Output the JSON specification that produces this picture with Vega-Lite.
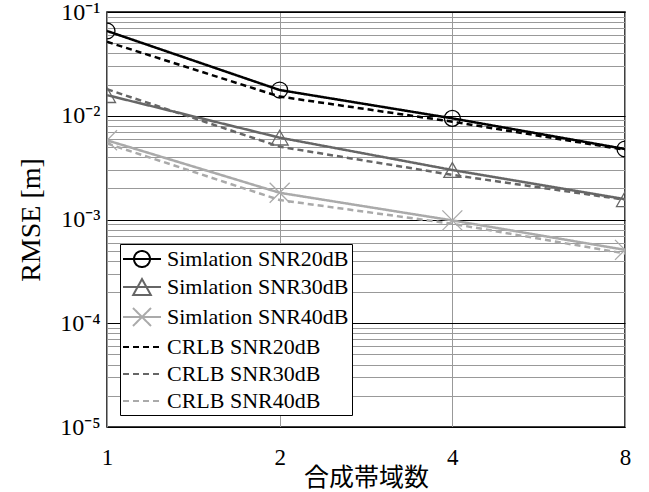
{
  "$schema": "https://vega.github.io/schema/vega-lite/v6.json",
  "width": 518,
  "height": 415,
  "autosize": {"type": "none"},
  "padding": {"left": 107, "top": 12, "right": 24, "bottom": 65},
  "background": "#ffffff",
  "data": {
    "values": [
      {"bands": 1, "rmse": 0.0656, "series": "Simlation SNR20dB"},
      {"bands": 2, "rmse": 0.0177, "series": "Simlation SNR20dB"},
      {"bands": 4, "rmse": 0.00944, "series": "Simlation SNR20dB"},
      {"bands": 8, "rmse": 0.00478, "series": "Simlation SNR20dB"},
      {"bands": 1, "rmse": 0.0158, "series": "Simlation SNR30dB"},
      {"bands": 2, "rmse": 0.00615, "series": "Simlation SNR30dB"},
      {"bands": 4, "rmse": 0.0030, "series": "Simlation SNR30dB"},
      {"bands": 8, "rmse": 0.00157, "series": "Simlation SNR30dB"},
      {"bands": 1, "rmse": 0.0058, "series": "Simlation SNR40dB"},
      {"bands": 2, "rmse": 0.00181, "series": "Simlation SNR40dB"},
      {"bands": 4, "rmse": 0.00098, "series": "Simlation SNR40dB"},
      {"bands": 8, "rmse": 0.00051, "series": "Simlation SNR40dB"},
      {"bands": 1, "rmse": 0.0516, "series": "CRLB SNR20dB"},
      {"bands": 2, "rmse": 0.0153, "series": "CRLB SNR20dB"},
      {"bands": 4, "rmse": 0.00877, "series": "CRLB SNR20dB"},
      {"bands": 8, "rmse": 0.0047, "series": "CRLB SNR20dB"},
      {"bands": 1, "rmse": 0.018, "series": "CRLB SNR30dB"},
      {"bands": 2, "rmse": 0.00503, "series": "CRLB SNR30dB"},
      {"bands": 4, "rmse": 0.00269, "series": "CRLB SNR30dB"},
      {"bands": 8, "rmse": 0.00155, "series": "CRLB SNR30dB"},
      {"bands": 1, "rmse": 0.0054, "series": "CRLB SNR40dB"},
      {"bands": 2, "rmse": 0.00154, "series": "CRLB SNR40dB"},
      {"bands": 4, "rmse": 0.00091, "series": "CRLB SNR40dB"},
      {"bands": 8, "rmse": 0.00047, "series": "CRLB SNR40dB"}
    ]
  },
  "encoding": {
    "x": {
      "field": "bands",
      "type": "quantitative",
      "scale": {"type": "log", "base": 2, "domain": [1, 8], "nice": false},
      "axis": {
        "title": "合成帯域数",
        "values": [1, 2, 4, 8],
        "labelExpr": "datum.value",
        "grid": true,
        "gridColor": "#999999",
        "gridWidth": 1,
        "ticks": false,
        "domain": false,
        "labelFont": "Liberation Serif",
        "labelFontSize": 23,
        "labelColor": "#000000",
        "labelPadding": 19,
        "labelFlush": false,
        "titleFont": "Noto Sans CJK JP",
        "titleFontSize": 25,
        "titleFontWeight": "normal",
        "titleColor": "#000000",
        "titlePadding": -4
      }
    },
    "y": {
      "field": "rmse",
      "type": "quantitative",
      "scale": {"type": "log", "domain": [0.00001, 0.1], "nice": false},
      "axis": {
        "title": "RMSE [m]",
        "values": [0.00001, 0.00002, 0.00003, 0.00004, 0.00005, 0.00006, 0.00007, 0.00008, 0.00009,
                   0.0001, 0.0002, 0.0003, 0.0004, 0.0005, 0.0006, 0.0007, 0.0008, 0.0009,
                   0.001, 0.002, 0.003, 0.004, 0.005, 0.006, 0.007, 0.008, 0.009,
                   0.01, 0.02, 0.03, 0.04, 0.05, 0.06, 0.07, 0.08, 0.09, 0.1],
        "labelExpr": "abs(datum.value/pow(10,round(log(datum.value)/LN10))-1)<1e-6 ? '10' + ['⁻¹','⁻²','⁻³','⁻⁴','⁻⁵'][-round(log(datum.value)/LN10)-1] : ''",
        "grid": true,
        "gridColor": {"condition": {"test": "abs(datum.value/pow(10,round(log(datum.value)/LN10))-1)<1e-6", "value": "#000000"}, "value": "#999999"},
        "gridWidth": 1,
        "ticks": false,
        "domain": false,
        "labelFont": "Liberation Serif",
        "labelFontSize": 24,
        "labelColor": "#000000",
        "labelPadding": 7,
        "labelFlush": false,
        "labelOverlap": false,
        "titleFont": "Liberation Serif",
        "titleFontSize": 28,
        "titleFontWeight": "normal",
        "titleColor": "#000000",
        "titlePadding": 14
      }
    }
  },
  "layer": [
    {
      "mark": {"type": "line", "strokeWidth": 2.5, "clip": true},
      "encoding": {
        "color": {"field": "series", "type": "nominal", "legend": null},
        "strokeDash": {"field": "series", "type": "nominal", "legend": null}
      }
    },
    {
      "transform": [{"filter": "datum.series == 'Simlation SNR20dB'"}],
      "mark": {"type": "point", "shape": "circle", "size": 254, "filled": false, "stroke": "#000000", "strokeWidth": 1.3, "opacity": 1, "clip": true}
    },
    {
      "transform": [{"filter": "datum.series == 'Simlation SNR30dB'"}],
      "mark": {"type": "point", "shape": "triangle-up", "size": 289, "filled": false, "stroke": "#666666", "strokeWidth": 1.3, "opacity": 1, "clip": true}
    },
    {
      "transform": [{"filter": "datum.series == 'Simlation SNR40dB'"}],
      "mark": {"type": "point", "shape": "M-1,-1L1,1M-1,1L1,-1", "size": 400, "filled": false, "stroke": "#aaaaaa", "strokeWidth": 1.3, "opacity": 1, "clip": true}
    },
    {
      "mark": {"type": "point", "filled": false, "opacity": 0, "strokeWidth": 2},
      "encoding": {
        "color": {
          "field": "series",
          "type": "nominal",
          "scale": {
            "domain": ["Simlation SNR20dB", "Simlation SNR30dB", "Simlation SNR40dB", "CRLB SNR20dB", "CRLB SNR30dB", "CRLB SNR40dB"],
            "range": ["#000000", "#666666", "#aaaaaa", "#000000", "#666666", "#aaaaaa"]
          },
          "legend": {"orient": "none", "legendX": 13, "legendY": 232, "title": null, "labelFont": "Liberation Serif", "labelFontSize": 22, "labelOffset": 13}
        },
        "strokeDash": {
          "field": "series",
          "type": "nominal",
          "scale": {
            "domain": ["Simlation SNR20dB", "Simlation SNR30dB", "Simlation SNR40dB", "CRLB SNR20dB", "CRLB SNR30dB", "CRLB SNR40dB"],
            "range": [[1, 0], [1, 0], [1, 0], [6, 4], [6, 4], [6, 4]]
          },
          "legend": {"orient": "none", "legendX": 13, "legendY": 232, "title": null, "labelFont": "Liberation Serif", "labelFontSize": 22, "labelOffset": 13}
        },
        "shape": {
          "field": "series",
          "type": "nominal",
          "scale": {
            "domain": ["Simlation SNR20dB", "Simlation SNR30dB", "Simlation SNR40dB", "CRLB SNR20dB", "CRLB SNR30dB", "CRLB SNR40dB"],
            "range": [
              "M-1.727,0H1.727M0.727,0A0.727,0.727 0 1,1 -0.727,0A0.727,0.727 0 1,1 0.727,0",
              "M-1.727,0H1.727M0,-0.72L0.8,0.72L-0.8,0.72Z",
              "M-1.727,0H1.727M-0.82,-0.82L0.82,0.82M-0.82,0.82L0.82,-0.82",
              "M-1.727,0H1.727",
              "M-1.727,0H1.727",
              "M-1.727,0H1.727"
            ]
          },
          "legend": {"orient": "none", "legendX": 13, "legendY": 232, "title": null, "labelFont": "Liberation Serif", "labelFontSize": 22, "labelOffset": 13}
        }
      }
    }
  ],
  "resolve": {"legend": {"color": "independent", "strokeDash": "independent", "shape": "independent"}},
  "config": {
    "font": "Liberation Serif",
    "view": {"stroke": "#000000", "strokeWidth": 1.5},
    "legend": {
      "labelFont": "Liberation Serif",
      "labelFontSize": 22,
      "labelColor": "#000000",
      "labelLimit": 400,
      "symbolSize": 484,
      "symbolStrokeWidth": 2,
      "symbolOpacity": 1,
      "symbolFillColor": "transparent",
      "symbolOffset": 7,
      "labelOffset": 13,
      "rowPadding": 4,
      "padding": 3,
      "strokeColor": "#000000",
      "fillColor": "#ffffff",
      "cornerRadius": 0
    }
  }
}
